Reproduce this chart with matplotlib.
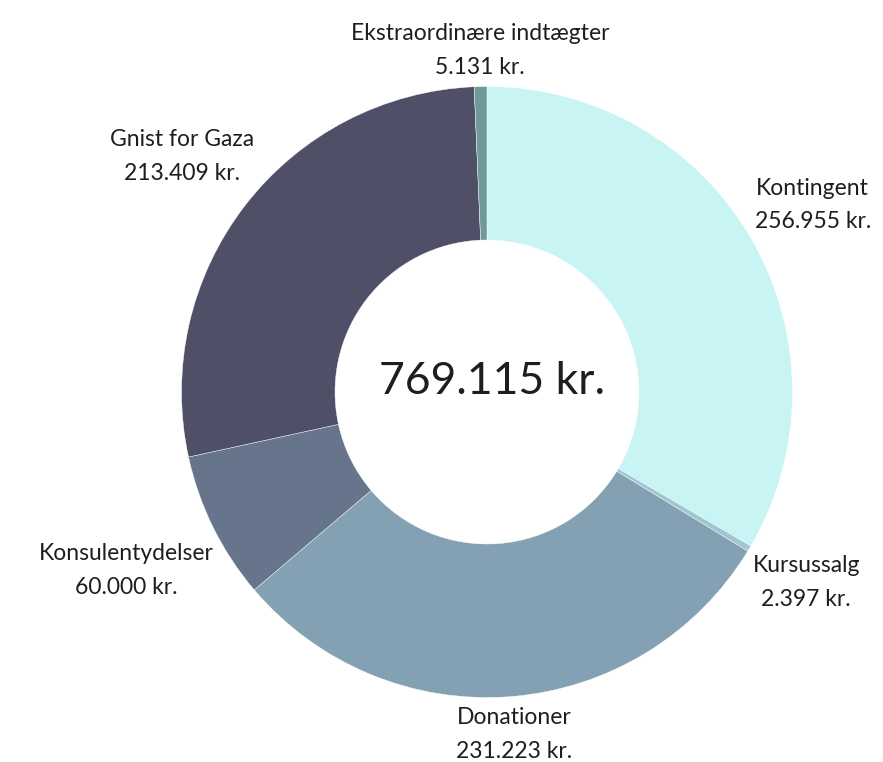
import numpy as np
import matplotlib
matplotlib.use('Agg')
import matplotlib.pyplot as plt

labels = ['Kontingent', 'Kursussalg', 'Donationer', 'Konsulentydelser',
          'Gnist for Gaza', 'Ekstraordinære indtægter']
values = [256955, 2397, 231223, 60000, 213409, 5131]
colors = ['#c9f4f4', '#9fc7d1', '#84a1b3', '#66758c', '#4f5068', '#6f9a98']

def kr(v):
    return f"{v:,}".replace(",", ".") + " kr."

plt.rcParams['font.family'] = ['Lato', 'DejaVu Sans']

W, H = 883, 762
fig = plt.figure(figsize=(W / 100, H / 100), dpi=100)
ax = fig.add_axes([0, 0, 1, 1])

cx, cy = 487, H - 392
R = 305.5
hole = 152

ax.pie(values, colors=colors, startangle=90, counterclock=False,
       center=(cx, cy), radius=R,
       wedgeprops=dict(width=R - hole, edgecolor='white', linewidth=0.3))
ax.set_xlim(0, W)
ax.set_ylim(0, H)
ax.set_aspect('equal')
ax.axis('off')

renderer = fig.canvas.get_renderer()

# label centre on the mid angle, pushed out so the box clears the ring
total = sum(values)
start = 0
for lab, v in zip(labels, values):
    mid = (start + v / 2) / total
    start += v
    ang = np.deg2rad(90 - mid * 360)
    c, s = np.cos(ang), np.sin(ang)
    t = ax.text(cx, cy, lab + '\n' + kr(v), ha='center', va='center',
                multialignment='center', fontsize=16.5, color='#1e1e1e',
                linespacing=1.75)
    bb = t.get_window_extent(renderer)
    d = R + 6 + abs(bb.width / 2 * c) + abs(bb.height / 2 * s)
    t.set_position((cx + d * c, cy + d * s))

ax.text(cx + 5, H - 381, kr(total), ha='center', va='center',
        fontsize=32, color='#1e1e1e')

fig.savefig('out.png', dpi=100)
